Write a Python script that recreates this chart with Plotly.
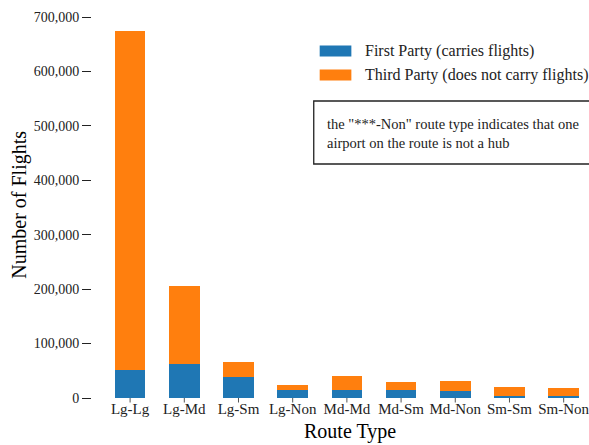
import plotly.graph_objects as go

# Flight counts by route type, split by who carries the flights
route_types = ["Lg-Lg", "Lg-Md", "Lg-Sm", "Lg-Non", "Md-Md", "Md-Sm", "Md-Non", "Sm-Sm", "Sm-Non"]
first_party = [52000, 63000, 39500, 13800, 15600, 15600, 12000, 2800, 4600]
totals = [675000, 205000, 67000, 23000, 41300, 30300, 32000, 21000, 19300]
third_party = [t - f for t, f in zip(totals, first_party)]

series_names = ["First Party (carries flights)", "Third Party (does not carry flights)"]
series_colors = ["#1f77b4", "#ff7f0e"]
y_ticks = [0, 100000, 200000, 300000, 400000, 500000, 600000, 700000]

FONT = "Liberation Serif"
W, H = 589, 445
ML, MR, MT, MB = 92, 0, 17, 47
PW, PH = W - ML - MR, H - MT - MB


def px(x):
    return (x - ML) / PW


def py(y):
    return (H - MB - y) / PH


fig = go.Figure()
for name, vals, color in zip(series_names, [first_party, third_party], series_colors):
    fig.add_trace(go.Bar(x=route_types, y=vals, name=name, marker_color=color,
                         marker_line_width=0, width=0.566, showlegend=False))

fig.update_layout(
    barmode="stack",
    width=W, height=H,
    margin=dict(l=ML, r=MR, t=MT, b=MB, pad=0),
    plot_bgcolor="white", paper_bgcolor="white",
    font=dict(family=FONT, size=14, color="black"),
)
fig.update_xaxes(
    range=[-0.703, 8.375], showgrid=False, showline=False, zeroline=False,
    ticks="", tickfont=dict(family=FONT, size=15, color="#222"),
)
fig.update_yaxes(
    range=[0, 700000], tickvals=y_ticks, tickformat=",", showgrid=False,
    showline=False, zeroline=False, ticks="outside", ticklen=9, tickwidth=1.2,
    tickcolor="#222", tickfont=dict(family=FONT, size=14, color="#222"),
)

# short tick marks below each category
for cat in route_types:
    fig.add_shape(type="line", xref="x", yref="paper", x0=cat, x1=cat,
                  y0=0, y1=-4.5 / PH, line=dict(color="#555", width=1))

# axis titles
fig.add_annotation(text="Route Type", x=px(353), y=py(432), xref="paper", yref="paper",
                   showarrow=False, font=dict(family=FONT, size=20, color="black"),
                   xanchor="center", yanchor="middle")
fig.add_annotation(text="Number of Flights", x=px(18), y=py(205), xref="paper", yref="paper",
                   showarrow=False, textangle=-90, font=dict(family=FONT, size=20, color="black"),
                   xanchor="center", yanchor="middle")

# legend
for i, (name, color) in enumerate(zip(series_names, series_colors)):
    yc = 51 + 24 * i
    fig.add_shape(type="rect", xref="paper", yref="paper",
                  x0=px(322), x1=px(354), y0=py(yc - 5.5), y1=py(yc + 5.5),
                  fillcolor=color, line_width=0)
    fig.add_annotation(text=name, x=px(366), y=py(yc), xref="paper", yref="paper",
                       showarrow=False, xanchor="left", yanchor="middle",
                       font=dict(family=FONT, size=16, color="#222"))

# note box
fig.add_shape(type="rect", xref="paper", yref="paper",
              x0=px(316), x1=px(610), y0=py(164), y1=py(101),
              fillcolor="white", line=dict(color="#222", width=1.3))
fig.add_annotation(text='the "***-Non" route type indicates that one<br>airport on the route is not a hub',
                   x=px(327), y=py(133), xref="paper", yref="paper", showarrow=False,
                   xanchor="left", yanchor="middle", align="left",
                   font=dict(family=FONT, size=14.5, color="#222"))

fig.write_html("out.html")
